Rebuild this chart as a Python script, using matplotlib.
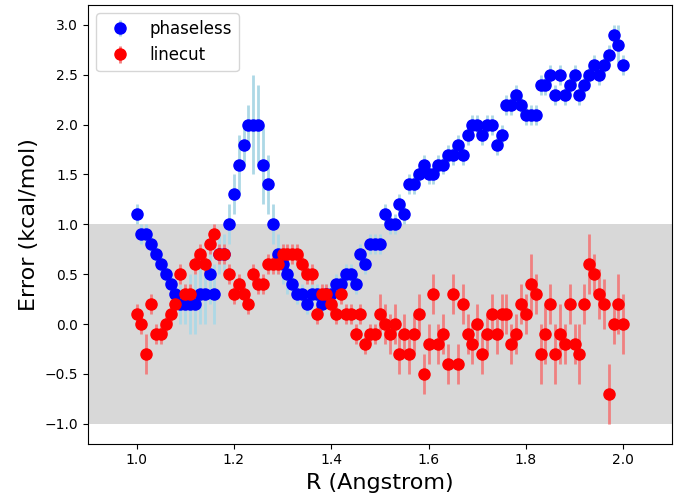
import numpy as np
import matplotlib
matplotlib.use("Agg")
import matplotlib.pyplot as plt

# bond length grid (Angstrom)
r = np.linspace(1.0, 2.0, 101)

phaseless = [
    1.1, 0.9, 0.9, 0.8, 0.7, 0.6, 0.5, 0.4, 0.3, 0.2,
    0.2, 0.2, 0.2, 0.3, 0.3, 0.5, 0.3, 0.7, 0.7, 1.0,
    1.3, 1.6, 1.8, 2.0, 2.0, 2.0, 1.6, 1.4, 1.0, 0.7,
    0.6, 0.5, 0.4, 0.3, 0.3, 0.2, 0.3, 0.3, 0.2, 0.3,
    0.3, 0.4, 0.4, 0.5, 0.5, 0.4, 0.7, 0.6, 0.8, 0.8,
    0.8, 1.1, 1.0, 1.0, 1.2, 1.1, 1.4, 1.4, 1.5, 1.6,
    1.5, 1.5, 1.6, 1.6, 1.7, 1.7, 1.8, 1.7, 1.9, 2.0,
    2.0, 1.9, 2.0, 2.0, 1.8, 1.9, 2.2, 2.2, 2.3, 2.2,
    2.1, 2.1, 2.1, 2.4, 2.4, 2.5, 2.3, 2.5, 2.3, 2.4,
    2.5, 2.3, 2.4, 2.5, 2.6, 2.5, 2.6, 2.7, 2.9, 2.8,
    2.6,
]
phaseless_err = [
    0.1, 0.1, 0.1, 0.1, 0.1, 0.1, 0.1, 0.1, 0.1, 0.2,
    0.2, 0.3, 0.3, 0.3, 0.3, 0.3, 0.3, 0.2, 0.2, 0.2,
    0.2, 0.3, 0.2, 0.2, 0.5, 0.4, 0.4, 0.3, 0.2, 0.2,
    0.2, 0.2, 0.1, 0.1, 0.1, 0.1, 0.1, 0.1, 0.1, 0.1,
    0.1, 0.1, 0.1, 0.1, 0.1, 0.1, 0.1, 0.1, 0.1, 0.1,
    0.1, 0.1, 0.1, 0.1, 0.1, 0.1, 0.1, 0.1, 0.1, 0.1,
    0.1, 0.1, 0.1, 0.1, 0.1, 0.1, 0.1, 0.1, 0.1, 0.1,
    0.1, 0.1, 0.1, 0.1, 0.1, 0.1, 0.1, 0.1, 0.1, 0.1,
    0.1, 0.1, 0.1, 0.1, 0.1, 0.1, 0.1, 0.1, 0.1, 0.1,
    0.1, 0.1, 0.1, 0.1, 0.1, 0.1, 0.1, 0.1, 0.1, 0.2,
    0.1,
]

linecut = [
    0.1, 0.0, -0.3, 0.2, -0.1, -0.1, 0.0, 0.1, 0.2, 0.5,
    0.3, 0.3, 0.6, 0.7, 0.6, 0.8, 0.9, 0.7, 0.7, 0.5,
    0.3, 0.4, 0.3, 0.2, 0.5, 0.4, 0.4, 0.6, 0.6, 0.6,
    0.7, 0.7, 0.7, 0.7, 0.6, 0.5, 0.5, 0.1, 0.3, 0.3,
    0.2, 0.1, 0.3, 0.1, 0.1, -0.1, 0.1, -0.2, -0.1, -0.1,
    0.1, 0.0, -0.1, 0.0, -0.3, -0.1, -0.3, -0.1, 0.1, -0.5,
    -0.2, 0.3, -0.2, -0.1, -0.4, 0.3, -0.4, 0.2, -0.1, -0.2,
    0.0, -0.3, -0.1, 0.1, -0.1, 0.1, 0.1, -0.2, -0.1, 0.2,
    0.1, 0.4, 0.3, -0.3, -0.1, 0.2, -0.3, -0.1, -0.2, 0.2,
    -0.2, -0.3, 0.2, 0.6, 0.5, 0.3, 0.2, -0.7, 0.0, 0.2,
    0.0,
]
linecut_err = [
    0.1, 0.1, 0.2, 0.1, 0.1, 0.1, 0.1, 0.1, 0.1, 0.1,
    0.1, 0.1, 0.1, 0.1, 0.1, 0.1, 0.1, 0.1, 0.1, 0.1,
    0.1, 0.1, 0.1, 0.1, 0.1, 0.1, 0.1, 0.1, 0.1, 0.1,
    0.1, 0.1, 0.1, 0.1, 0.1, 0.1, 0.1, 0.1, 0.1, 0.1,
    0.1, 0.1, 0.1, 0.1, 0.1, 0.1, 0.1, 0.1, 0.1, 0.1,
    0.2, 0.2, 0.2, 0.2, 0.2, 0.2, 0.2, 0.2, 0.2, 0.2,
    0.2, 0.2, 0.2, 0.2, 0.2, 0.2, 0.2, 0.2, 0.2, 0.2,
    0.2, 0.2, 0.2, 0.2, 0.2, 0.2, 0.2, 0.2, 0.2, 0.2,
    0.2, 0.3, 0.2, 0.3, 0.3, 0.2, 0.3, 0.3, 0.2, 0.2,
    0.2, 0.3, 0.2, 0.3, 0.2, 0.25, 0.25, 0.3, 0.2, 0.3,
    0.3,
]

fig, ax = plt.subplots(figsize=(6.76, 4.98), dpi=100)
fig.subplots_adjust(left=0.130, right=0.994, top=0.990, bottom=0.109)

ax.axhspan(-1, 1, color='grey', alpha=0.3, lw=0)

ax.errorbar(r, phaseless, yerr=phaseless_err, fmt='o', color='blue',
            ecolor='lightblue', elinewidth=2, ms=8, label='phaseless')
ax.errorbar(r, linecut, yerr=linecut_err, fmt='o', color='red',
            ecolor='lightcoral', elinewidth=2, ms=8, label='linecut')

ax.set_xlim(0.9, 2.1)
ax.set_ylim(-1.2, 3.2)
ax.set_xlabel('R (Angstrom)', fontsize=16)
ax.set_ylabel('Error (kcal/mol)', fontsize=16)
ax.legend(loc='upper left', fontsize=12)

fig.savefig('out.png', dpi=100)
